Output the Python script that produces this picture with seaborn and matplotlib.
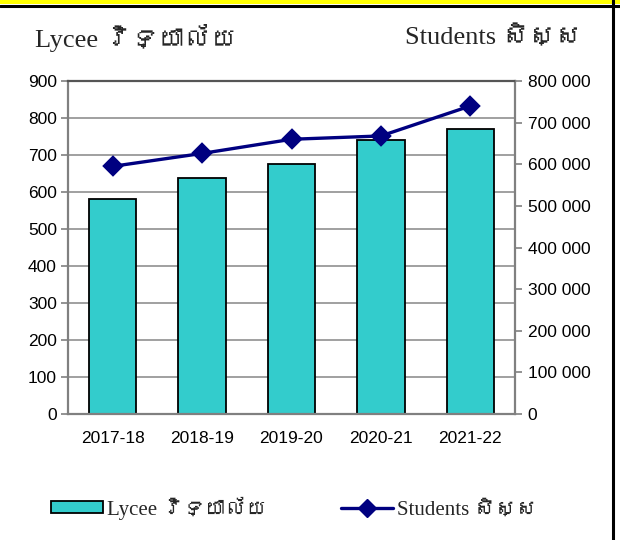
import matplotlib
matplotlib.use("Agg")
import matplotlib.pyplot as plt
import seaborn as sns
import pandas as pd
from matplotlib import font_manager as fm
from matplotlib.ft2font import FT2Font
from matplotlib.patches import Patch, Rectangle
from matplotlib.lines import Line2D
from matplotlib.ticker import FuncFormatter, MultipleLocator

years = ["2017-18", "2018-19", "2019-20", "2020-21", "2021-22"]
lycee = [580, 637, 676, 740, 770]
students = [595000, 626000, 660000, 668000, 740000]
left_title = "Lycee វិទ្យាល័យ"
right_title = "Students សិស្ស"

sns.set_theme(style="white")


def find_font(ch):
    for f in fm.fontManager.ttflist:
        try:
            if ord(ch) in FT2Font(f.fname).get_charmap():
                return f.name
        except Exception:
            pass
    return None


khmer = find_font("ស")
serif_fam = ["Liberation Serif"] + ([khmer] if khmer else []) + ["DejaVu Sans"]
sans_fam = ["Liberation Sans", "DejaVu Sans"]
plt.rcParams["font.family"] = sans_fam

df = pd.DataFrame({"year": years, "lycee": lycee, "students": students})

fig = plt.figure(figsize=(6.2, 5.4), dpi=100)
ax = fig.add_axes([68 / 620, 1 - 414 / 540, (515 - 68) / 620, (414 - 81) / 540])

sns.barplot(data=df, x="year", y="lycee", ax=ax, color="#33CCCC",
            edgecolor="black", linewidth=1.3, width=0.53, saturation=1)
ax.set_ylim(0, 900)
ax.yaxis.set_major_locator(MultipleLocator(100))
ax.set_axisbelow(True)
ax.grid(axis="y", color="#868686", linewidth=1.1)
ax.set_xlabel("")
ax.set_ylabel("")
for s in ["left", "bottom", "right"]:
    ax.spines[s].set_color("#808080")
    ax.spines[s].set_linewidth(1.6)
ax.spines["top"].set_color("#555555")
ax.spines["top"].set_linewidth(1.6)
ax.tick_params(axis="both", direction="out", length=5, width=1.2, color="#808080",
               labelsize=12.5, labelcolor="black", pad=3)
ax.tick_params(axis="x", pad=12)
ax.set_xticks([i - 0.5 for i in range(len(years) + 1)], minor=True)
ax.tick_params(axis="x", which="major", length=0)
ax.tick_params(axis="x", which="minor", direction="out", length=5, width=1.2, color="#808080")

ax2 = ax.twinx()
sns.pointplot(data=df, x="year", y="students", ax=ax2, color="#000080",
              markers="D", linestyles="-", markersize=9.5, linewidth=2.4)
ax2.set_ylim(0, 800000)
ax2.yaxis.set_major_locator(MultipleLocator(100000))
ax2.yaxis.set_major_formatter(FuncFormatter(lambda v, p: f"{int(v):,}".replace(",", " ")))
ax2.set_ylabel("")
ax2.set_xlabel("")
for s in ax2.spines.values():
    s.set_visible(False)
ax2.tick_params(axis="y", direction="out", length=5, width=1.2, color="#808080",
                labelsize=12.5, labelcolor="black", pad=4)
ax2.grid(False)

fig.text(35 / 620, 1 - 38 / 540, left_title, family=serif_fam, fontsize=19,
         ha="left", va="center")
fig.text(582 / 620, 1 - 38 / 540, right_title, family=serif_fam, fontsize=19,
         ha="right", va="center")

handles = [Patch(facecolor="#33CCCC", edgecolor="black", linewidth=1.3),
           Line2D([], [], color="#000080", marker="D", markersize=9, linewidth=2.4)]
fig.legend(handles, [left_title, right_title], loc="center",
           bbox_to_anchor=(294 / 620, 1 - 508 / 540), ncol=2, frameon=False,
           prop={"family": serif_fam, "size": 15}, handlelength=2.5,
           handletextpad=0.15, columnspacing=3.6, handleheight=0.5,
           borderpad=0, borderaxespad=0)

# frame decorations
fig.patches.append(Rectangle((0, 1 - 4 / 540), 1, 4 / 540, transform=fig.transFigure,
                             facecolor="#FFFF00", edgecolor="none", zorder=0))
fig.lines.append(Line2D([0, 1], [1 - 5.5 / 540, 1 - 5.5 / 540], transform=fig.transFigure,
                        color="black", linewidth=2.2))
fig.lines.append(Line2D([613 / 620, 613 / 620], [0, 1], transform=fig.transFigure,
                        color="black", linewidth=2.2))

fig.savefig("out.png", dpi=100)
